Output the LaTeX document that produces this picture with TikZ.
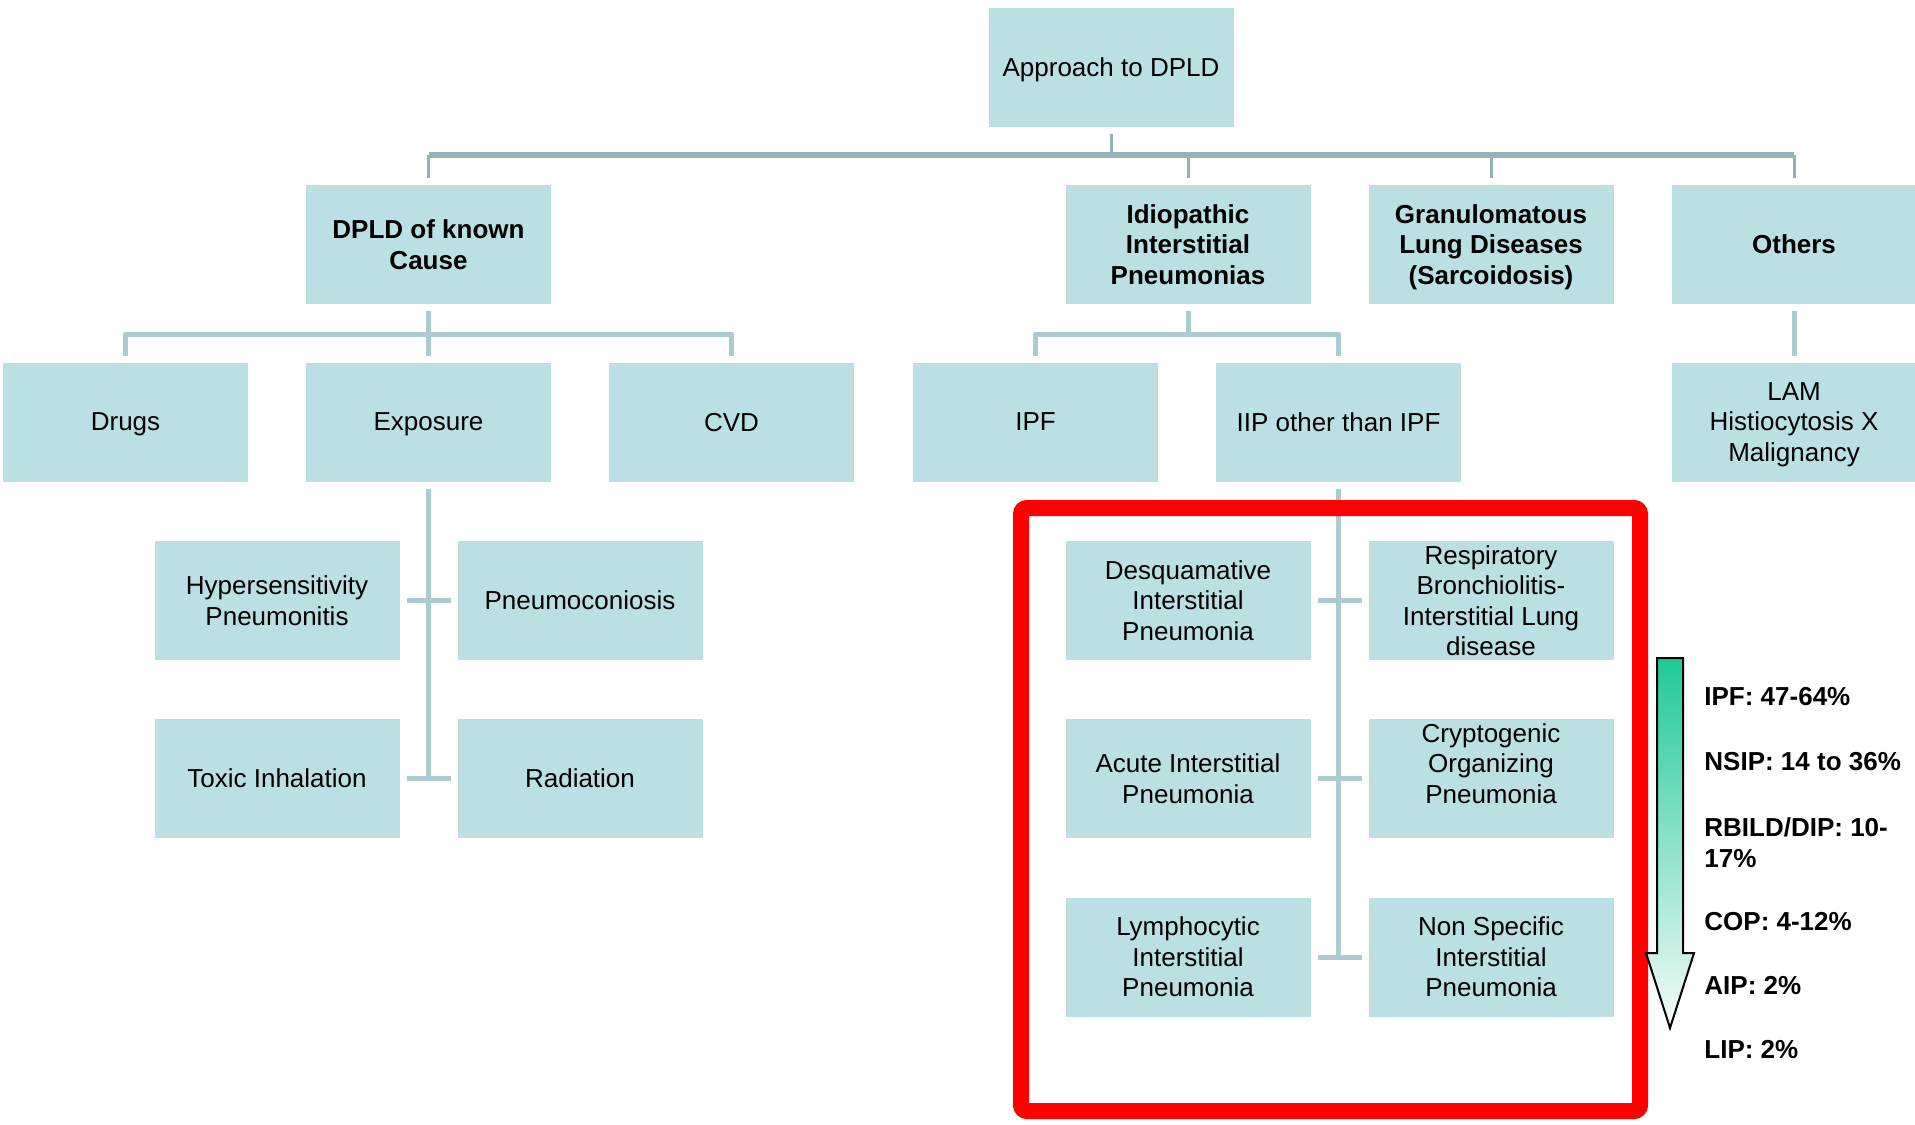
\documentclass[tikz,border=0pt]{standalone}
\usepackage{fontspec}
\setmainfont{Liberation Sans}
\definecolor{boxblue}{RGB}{187,224,227}
\definecolor{barteal}{RGB}{147,180,183}
\definecolor{linkteal}{RGB}{168,204,207}
\definecolor{arrowgreen}{RGB}{32,201,151}
\definecolor{arrowwhite}{RGB}{246,251,249}
\begin{document}
\begin{tikzpicture}[
  x=0.5pt, y=-0.5pt,
  cell/.style = {fill=boxblue, minimum width=122.5pt, minimum height=59.5pt,
                 inner sep=0pt, outer sep=3.5pt, align=center, text depth=0pt,
                 font=\fontsize{13pt}{15.25pt}\selectfont},
  catcell/.style = {cell, font=\fontsize{13pt}{15.25pt}\selectfont\bfseries},
  trunk/.style = {draw=barteal, line width=3pt},
  stub/.style = {draw=barteal, line width=1.5pt},
  branch/.style = {draw=linkteal, line width=2.5pt},
  pct/.style = {anchor=west, inner sep=0pt, align=left,
                font=\fontsize{13pt}{15.25pt}\selectfont\bfseries},
  ]
  \useasboundingbox (0,0) rectangle (1915,1124);

  % top level
  \node[cell] (top) at (1111,67) {Approach to DPLD};

  \node[catcell] (known) at (428.5,244.5) {DPLD of known\\Cause};
  \node[catcell] (iip) at (1188,244.5) {Idiopathic\\Interstitial\\Pneumonias};
  \node[catcell] (gran) at (1491,244.5) {Granulomatous\\Lung Diseases\\(Sarcoidosis)};
  \node[catcell] (others) at (1794,244.5) {Others};

  % third row
  \node[cell] (drugs) at (125.5,422) {Drugs};
  \node[cell] (exposure) at (428.5,422) {Exposure};
  \node[cell] (cvd) at (731.5,422) {CVD};
  \node[cell] (ipf) at (1035.5,422) {IPF};
  \node[cell] (iipo) at (1338.5,422) {IIP other than IPF};
  \node[cell] (lam) at (1794,422) {LAM\\Histiocytosis X\\Malignancy};

  % exposures
  \node[cell] (hyper) at (277,600.5) {Hypersensitivity\\Pneumonitis};
  \node[cell] (pneumo) at (580,600.5) {Pneumoconiosis};
  \node[cell] (toxic) at (277,778.5) {Toxic Inhalation};
  \node[cell] (rad) at (580,778.5) {Radiation};

  % other IIPs
  \node[cell] (desq) at (1188,600.5) {Desquamative\\Interstitial\\Pneumonia};
  \node[cell] (resp) at (1491,600.5) {Respiratory\\Bronchiolitis-\\Interstitial Lung\\disease};
  \node[cell] (aip) at (1188,778.5) {Acute Interstitial\\Pneumonia};
  \node[cell] (cop) at (1491,778.5) {Cryptogenic\\Organizing\\Pneumonia\\ };
  \node[cell] (lip) at (1188,957) {Lymphocytic\\Interstitial\\Pneumonia};
  \node[cell] (nsip) at (1491,957) {Non Specific\\Interstitial\\Pneumonia};

  % connectors
  \coordinate (bar) at (0,155);
  \coordinate (sub) at (0,334);
  \draw[stub] (top.south) -- (top.south |- bar);
  \draw[trunk] (known.north |- bar) -- (others.north |- bar);
  \foreach \n in {known,iip,gran,others}
    \draw[stub] (bar -| \n.north) -- (\n.north);

  \draw[branch] (known.south) -- (exposure.north);
  \draw[branch, line join=round] (drugs.north) -- (drugs.north |- sub) -- (cvd.north |- sub) -- (cvd.north);
  \draw[branch] (iip.south) -- (iip.south |- sub);
  \draw[branch, line join=round] (ipf.north) -- (ipf.north |- sub) -- (iipo.north |- sub) -- (iipo.north);
  \draw[branch] (others.south) -- (lam.north);

  \draw[branch] (exposure.south) -- (exposure.south |- toxic.east);
  \draw[branch] (hyper.east) -- (pneumo.west);
  \draw[branch] (toxic.east) -- (rad.west);

  \draw[branch] (iipo.south) -- (iipo.south |- lip.east);
  \draw[branch] (desq.east) -- (resp.west);
  \draw[branch] (aip.east) -- (cop.west);
  \draw[branch] (lip.east) -- (nsip.west);

  % highlight frame
  \draw[red, line width=8pt, rounded corners=3pt] (1021,508) rectangle (1640,1111);

  % frequency arrow
  \draw[line width=1pt, top color=arrowgreen, bottom color=arrowwhite]
    (1657,658) -- (1683,658) -- (1683,953) -- (1694,953) -- (1670,1028)
    -- (1646,953) -- (1657,953) -- cycle;

  \node[pct] (sipf) at (1704,697) {IPF: 47-64\%};
  \node[pct] (snsip) at (1704,762) {NSIP: 14 to 36\%};
  \node[pct] (srb) at (1704,842.5) {RBILD/DIP: 10-\\17\%};
  \node[pct] (scop) at (1704,922) {COP: 4-12\%};
  \node[pct] (saip) at (1704,986) {AIP: 2\%};
  \node[pct] (slip) at (1704,1050) {LIP: 2\%};
\end{tikzpicture}
\end{document}
